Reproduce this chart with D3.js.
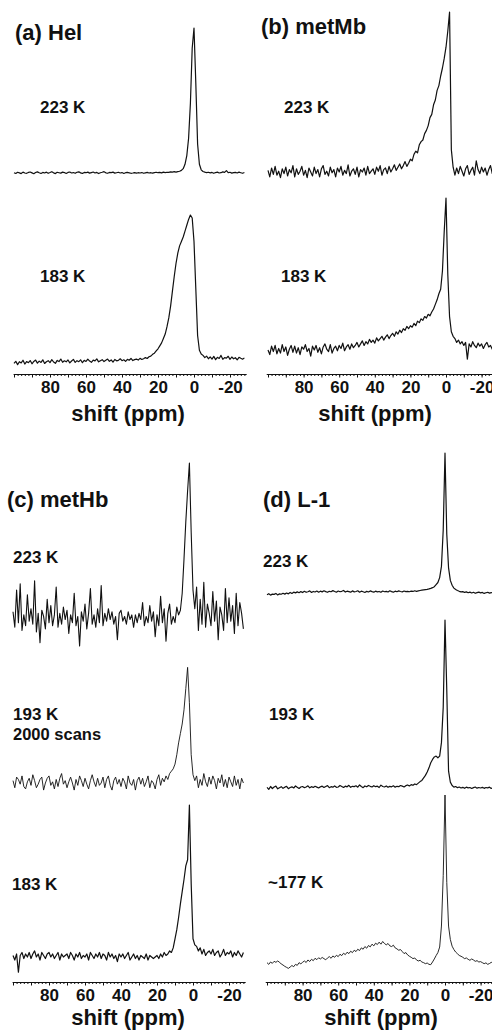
<!DOCTYPE html>
<html>
<head>
<meta charset="utf-8">
<script src="https://cdn.jsdelivr.net/npm/d3@7"></script>
<style>
  body { margin: 0; background: #fff; }
  svg { display: block; }
  text { font-family: "Liberation Sans", Arial, Helvetica, sans-serif; font-weight: bold; fill: #111; }
</style>
</head>
<body>
<svg id="fig" width="492" height="1032"></svg>
<script>
// chemical shift grid, 100 ppm down to -28 ppm, one point per ppm
var shiftPpm = d3.range(100, -29, -1);

var panelTitles = ['(a) Hel', '(b) metMb', '(c) metHb', '(d) L-1'];
var tickLabels = [80, 60, 40, 20, 0, -20];
var axisTitle = 'shift (ppm)';

var tempsHel = ['223 K', '183 K'];
var tempsMetMb = ['223 K', '183 K'];
var tempsMetHb = ['223 K', '193 K', '183 K'];
var tempsL1 = ['223 K', '193 K', '~177 K'];
var metHbNote = '2000 scans';

// intensities, relative to each trace's own maximum (= 100)
var hel223 = [
  0.2, -0.3, 0.5, 0.1, -0.4, 0.6, 0.0, -0.2, 0.4, 0.7,
  0.1, -0.5, 0.3, 0.8, 0.2, -0.3, 0.4, 0.0, 0.6, -0.2,
  0.3, 0.9, 0.1, -0.4, 0.5, 0.2, -0.1, 0.6, 0.3, -0.3,
  0.4, 0.7, 0.0, 0.3, -0.2, 0.5, 0.8, 0.1, -0.3, 0.4,
  0.2, 0.6, -0.1, 0.3, 0.7, 0.0, 0.4, -0.4, 0.2, 0.5,
  0.9, 0.1, -0.2, 0.4, 0.3, 0.6, -0.1, 0.2, 0.5, 0.0,
  0.3, -0.3, 0.2, 0.4, 0.1, -0.2, 0.0, 0.3, -0.1, 0.2,
  0.0, 0.3, -0.2, 0.1, 0.4, 0.0, 0.2, -0.1, 0.3, 0.5,
  0.2, 0.4, 0.1, 0.6, 0.3, 0.5, 0.4, 0.8, 0.6, 0.9,
  0.6, 0.9, 1.2, 1.8, 3.0, 6.0, 12, 24, 48, 86,
  100, 62, 20, 6.0, 2.2, 1.0, 0.6, 0.3, 0.5, 0.1,
  0.4, -0.2, 0.3, 0.6, 0.0, 0.2, 0.8, 0.4, 1.6, 0.2,
  0.5, -0.1, 0.3, 0.4, 0.0, 0.6, 0.2, -0.2, 0.3
];
var hel183 = [
  -1.0, 0.5, -1.8, 0.2, -0.6, 1.2, -1.4, 0.3, -0.5, 1.0,
  -1.2, 0.4, 1.3, -0.8, 0.6, -0.3, 1.5, -1.0, 0.2, 0.9,
  -0.4, 1.6, 0.0, -0.9, 1.1, 0.3, 2.0, -0.2, 0.8, 0.1,
  1.4, -0.6, 0.7, 1.8, -0.3, 0.9, 0.2, 1.5, -0.5, 1.1,
  0.4, 1.9, 0.6, -0.2, 1.3, 0.8, 2.1, 0.1, 0.9, 1.6,
  0.3, 1.2, 2.0, 0.5, 1.4, -0.1, 1.7, 0.8, 1.1, 2.2,
  0.9, 1.5, 0.4, 1.8, 1.2, 2.4, 1.0, 1.6, 2.0, 1.3,
  2.5, 1.7, 2.2, 3.0, 2.4, 3.6, 4.0, 5.2, 6.0, 7.5,
  9, 11, 13, 16, 19, 24, 30, 38, 48, 58,
  67, 74, 79, 82, 85, 89, 93, 97, 100, 98,
  82, 50, 18, 8, 5.5, 4.5, 3.0, 4.0, 2.2, 3.5,
  2.0, 3.8, 1.6, 3.2, 2.4, 4.5, 1.8, 3.0, 2.6, 3.9,
  1.8, 3.4, 2.2, 2.9, 1.5, 3.2, 2.5, 1.9, 2.8
];
var metMb223 = [
  1.0, -3.0, 2.5, -1.5, 3.5, -2.0, 0.5, -3.5, 2.0, -1.0,
  3.0, -2.5, 1.5, -0.5, 4.0, -3.0, 2.0, -1.5, 0.5, 3.5,
  -2.0, 1.0, -3.5, 2.5, 0.0, -2.5, 3.0, -1.0, 1.5, -3.0,
  2.0, 4.0, -1.5, 0.5, -2.5, 3.0, -0.5, 1.5, -3.0, 2.5,
  0.0, 3.5, -2.0, 1.0, -1.0, 4.5, -2.5, 0.5, 2.0, -1.5,
  3.0, -3.0, 1.5, 0.0, 2.5, -2.0, 3.5, -1.0, 0.5, 2.0,
  -1.5, 3.0, 0.5, 4.0, -2.0, 1.5, 2.5, -1.0, 3.5, 0.0,
  2.0, 4.5, 1.0, 3.0, 5.0, 2.0, 4.0, 6.5, 3.5, 5.5,
  8, 7, 11, 13, 12, 17, 19, 20, 24, 26,
  29, 34, 36, 42, 45, 51, 54, 60, 65, 71,
  78, 88, 100, 14, 3.0, -2.0, 2.5, -1.0, 3.5, 0.5,
  -2.5, 2.0, 4.0, -1.5, 1.0, 3.0, -2.0, 7.0, 1.5, -1.0,
  3.0, 0.0, 2.5, -2.0, 1.5, 4.0, -1.0, 2.0, 0.5
];
var metMb183 = [
  0.0, -3.0, 2.5, -1.0, 3.0, -2.5, 1.0, -2.0, 3.5, -1.0,
  2.0, -3.5, 0.5, 3.0, -1.5, 2.5, -2.0, 1.5, -3.0, 2.0,
  0.5, 3.5, -1.0, 1.0, -4.0, 2.5, 0.0, 3.0, -1.5, 1.5,
  -2.5, 2.0, 4.0, 0.5, -1.0, 3.5, -2.0, 1.0, 2.5, -0.5,
  3.0, 1.0, 4.5, -0.5, 2.0, 3.5, 0.5, 4.0, 1.5, 3.0,
  5.0, 2.0, 4.0, 6.0, 3.0, 5.5, 4.0, 7.0, 5.0, 6.5,
  4.5, 8.0, 6.0, 7.5, 9.0, 6.5, 8.5, 10.0, 7.5, 9.5,
  11, 9, 12, 10.5, 13, 11.5, 14, 13, 15.5, 14,
  16, 15, 17.5, 16, 19, 18, 20.5, 19.5, 22, 21,
  23.5, 22.5, 25, 27, 30, 33, 37, 40, 52, 78,
  100, 50, 22, 12, 9, 7.5, 5, 6.5, 4, 5.5,
  3.0, 5.0, -6.0, 4.0, 2.0, 5.5, 3.0, 1.5, 4.5, 2.5,
  4.0, 1.0, 3.5, 5.0, 2.0, 3.0, 0.5, 4.0, 2.5
];
var metHb223 = [
  4, -6, 18, -3, 22, -8, 2, -5, 15, -2,
  6, -4, 24, -9, 3, -16, 5, 1, -7, 12,
  -3, 8, -5, 2, 20, -6, 3, -4, 7, -1,
  5, -10, 2, -3, 16, -5, 1, -18, 4, -2,
  9, -7, 3, 19, -4, 2, -6, 6, -3, 21,
  -5, 3, -2, 6, -1, 4, -4, 1, -14, 3,
  5, -2, 1, -4, 4, -1, 2, -6, 2, -3,
  3, -1, 10, -5, 1, -3, 8, -2, 4, -12,
  2, -5, 14, -3, 6, -15, 3, 9, -4, 1,
  -3, 7, 2, 5, 16, 38, 62, 82, 100, 55,
  18, 6, 20, -8, 12, -4, 23, -6, 9, 3,
  -5, 17, -2, 11, -14, 7, 2, -8, 19, -3,
  13, -2, 8, -10, 16, -5, 10, 3, -7
];
var metHb193 = [
  2, -4, 5, 3, -1, 6, -3, -5, 1, 4,
  -2, 7, 2, -4, -1, 3, 5, -6, 0, 4,
  6, -2, 1, -5, 3, -3, 4, 8, -1, 2,
  -4, 1, 5, 0, -6, 3, -2, 6, 2, -3,
  4, -1, -5, 2, 7, 1, -3, 4, -2, 0,
  5, -4, 3, 6, -2, -6, 2, 5, -1, 3,
  -3, 4, 1, -5, 6, 0, -2, 3, -6, 2,
  5, -1, 4, -3, 1, 6, -4, 2, 0, -5,
  3, 7, -2, 4, 1, 6, 3, 8, 10, 12,
  16, 24, 34, 42, 50, 62, 80, 98, 68, 24,
  7, 2, 6, -4, 3, -2, 8, 1, -3, 5,
  -1, 6, 2, -5, 4, 0, 7, -3, 3, -4,
  5, 1, -3, 6, -2, 3, -5, 4, 0
];
var metHb183 = [
  1, -2, 2, -10, 1, 3, -1, 2, 0, 3,
  -1, 2, 4, 0, 2, -2, 3, 1, -1, 2,
  3, 0, 2, -1, 1, 3, -2, 2, 0, 1,
  2, -1, 3, 1, -2, 2, 0, 3, -1, 1,
  0, 2, -2, 3, 1, -1, 2, 0, 3, -1,
  2, 1, -2, 3, 0, 2, -1, 1, -3, 2,
  0, 2, -1, 1, 3, -2, 0, 2, -1, 1,
  -2, 1, 0, -1, 2, -2, 1, 0, -1, 0,
  1, -1, 2, 0, 3, 1, 2, 4, 3, 6,
  12, 18, 26, 35, 43, 51, 60, 64, 100, 48,
  12, 8, 7, 4, 6, 2, 5, 1, 3, 4,
  2, 5, 1, 3, 4, 0, 2, 5, 1, 3,
  2, 4, 0, 3, 1, 4, 2, 0, 3
];
var l1_223 = [
  -1.2, -0.5, -1.5, -0.8, -1.0, -0.3, -1.4, -0.6, -0.9, -0.2,
  -0.8, 0.0, -0.6, 0.4, -0.3, 0.6, 0.1, 0.8, 0.2, 1.0,
  0.3, 1.2, 0.5, 0.9, 1.5, 0.4, 1.1, 0.7, 1.4, 0.6,
  1.3, 0.8, 1.6, 1.0, 0.5, 1.2, 0.9, 1.7, 1.1, 0.6,
  1.4, 0.9, 1.2, 1.8, 0.7, 1.3, 1.0, 0.6, 1.5, 0.8,
  1.1, 1.6, 0.6, 1.3, 0.9, 0.4, 1.2, 0.7, 1.5, 1.0,
  0.6, 1.3, 0.8, 1.1, 0.5, 1.4, 0.9, 1.2, 0.7, 1.6,
  1.0, 0.6, 1.3, 0.9, 1.5, 1.1, 0.8, 1.4, 1.0, 1.2,
  0.9, 1.3, 1.1, 1.6, 1.2, 1.5, 1.8, 2.0, 2.2, 2.4,
  2.6, 2.9, 3.3, 3.8, 4.5, 6.0, 7.5, 11, 19, 45,
  100, 42, 18, 9, 5.5, 3.5, 2.5, 1.8, 1.2, 0.8,
  1.0, 0.4, 0.8, 0.2, 0.6, 0.0, 0.5, -0.2, 0.3, 0.6,
  0.1, 0.4, -0.3, 0.2, 0.5, -0.1, 0.3, 0.0, 0.2
];
var l1_193 = [
  0.4, -0.8, 0.9, -0.3, 0.6, 1.1, -0.5, 0.2, 0.8, -0.2,
  0.5, 1.0, -0.4, 0.3, 0.7, 0.0, 1.2, 0.4, -0.3, 0.6,
  0.9, 0.2, 0.6, 1.3, 0.1, 0.8, 0.3, 1.0, 0.5, 0.0,
  0.7, 1.1, 0.3, 0.9, 1.4, 0.2, 0.8, 0.5, 1.2, 0.4,
  0.6, 1.5, 0.9, 0.3, 1.1, 0.7, 1.6, 0.4, 1.0, 0.8,
  1.3, 0.5, 1.8, 0.9, 0.2, 1.2, 0.7, 1.5, 1.0, 0.6,
  1.4, 0.8, 1.1, 0.3, 1.7, 0.9, 0.6, 1.2, 0.4, 1.0,
  0.7, 1.3, 0.5, 1.0, 0.8, 1.5, 1.1, 0.6, 1.4, 1.8,
  1.2, 2.0, 1.6, 2.4, 2.0, 2.9, 3.8, 4.5, 6.0, 7.5,
  9.5, 12, 15, 17, 18.5, 19, 18, 19, 27, 48,
  100, 58, 10, 3.5, 1.5, 0.5, 0.9, 0.2, 0.6, 0.0,
  0.4, -0.2, 0.5, 0.1, 0.3, -0.3, 0.2, 0.6, -0.1, 0.3,
  0.0, 0.4, -0.2, 0.3, 0.1, 0.5, -0.3, 0.2, 0.0
];
var l1_177 = [
  0.2, -0.8, 0.6, -0.2, 1.0, 0.4, 1.2, 0.5, -0.6, -1.2,
  -2.0, -2.6, -3.2, -2.4, -1.5, -2.2, -0.8, -1.4, 0.2, -0.5,
  0.4, 1.2, 0.3, 1.8, 0.9, 2.2, 1.4, 2.8, 2.0, 3.1,
  2.4, 3.3, 2.6, 1.9, 3.0, 3.8, 2.8, 4.2, 3.4, 4.6,
  3.8, 5.2, 4.4, 5.8, 5.0, 6.4, 5.6, 7.0, 6.2, 7.6,
  6.8, 8.2, 7.4, 9.0, 8.2, 9.8, 8.8, 10.4, 9.6, 11.2,
  10.2, 11.8, 11.0, 12.4, 11.2, 12.8, 11.6, 10.8, 11.6, 10.2,
  9.8, 10.6, 9.0, 8.4, 7.6, 8.0, 6.8, 5.6, 6.2, 4.8,
  4.0, 3.4, 2.6, 3.0, 1.8, 1.2, 1.6, 0.6, 0.2, -0.4,
  0.0, -0.8, -1.0, 0.6, 2.4, 4.4, 6.2, 9.5, 22, 52,
  100, 48, 22, 14, 10, 8, 6.5, 5.5, 4.5, 4.0,
  3.4, 2.6, 3.0, 2.2, 1.6, 2.4, 1.8, 1.0, 1.4, 0.6,
  0.8, 0.2, -0.4, 0.1, -0.8, -0.3, 0.4, -0.2, 0.5
];

// layout of the four panels (pixel positions taken from the figure)
var panels = [
  { title: panelTitles[0], tx: 15, ty: 40, x0: 194, ppx: 1.8, axisY: 374, axisLeft: 100.5, axisRight: -29, labelX: 128, labelY: 421,
    traces: [
      { values: hel223, label: tempsHel[0], base: 173, top: 28, lx: 40, ly: 113 },
      { values: hel183, label: tempsHel[1], base: 362, top: 215, lx: 40, ly: 282 }
    ] },
  { title: panelTitles[1], tx: 261, ty: 34, x0: 446, ppx: 1.78, axisY: 374, axisLeft: 101, axisRight: -28, labelX: 375, labelY: 421,
    traces: [
      { values: metMb223, label: tempsMetMb[0], base: 172, top: 12, lx: 284, ly: 113 },
      { values: metMb183, label: tempsMetMb[1], base: 350, top: 198, lx: 281, ly: 282 }
    ] },
  { title: panelTitles[2], tx: 7, ty: 507, x0: 193, ppx: 1.8, axisY: 982, axisLeft: 100.5, axisRight: -29, labelX: 128, labelY: 1025,
    traces: [
      { values: metHb223, label: tempsMetHb[0], base: 618, top: 463, lx: 13, ly: 563, w: 1.1 },
      { values: metHb193, label: tempsMetHb[1], base: 783, top: 665, lx: 13, ly: 720, w: 0.9 },
      { values: metHb183, label: tempsMetHb[2], base: 957, top: 805, lx: 12, ly: 890 }
    ] },
  { title: panelTitles[3], tx: 263, ty: 507, x0: 445, ppx: 1.78, axisY: 982, axisLeft: 101, axisRight: -28, labelX: 381, labelY: 1025,
    traces: [
      { values: l1_223, label: tempsL1[0], base: 593, top: 453, lx: 263, ly: 567 },
      { values: l1_193, label: tempsL1[1], base: 788, top: 620, lx: 269, ly: 720 },
      { values: l1_177, label: tempsL1[2], base: 963, top: 795, lx: 268, ly: 888, w: 0.9 }
    ] }
];

var svg = d3.select('#fig');

panels.forEach(function(p, pi) {
  var g = svg.append('g').attr('class', 'panel');

  var x = d3.scaleLinear().domain([0, 100]).range([p.x0, p.x0 - 100 * p.ppx]);
  var ax = d3.scaleLinear().domain([p.axisLeft, p.axisRight]).range([x(p.axisLeft), x(p.axisRight)]);

  // minor ticks every 2 ppm
  g.append('g')
    .attr('transform', 'translate(0,' + p.axisY + ')')
    .call(d3.axisBottom(ax).tickValues(d3.range(100, p.axisRight, -2)).tickSize(2).tickSizeOuter(0).tickFormat(''))
    .call(function(s) { s.selectAll('line, path').attr('stroke', '#111'); });

  // longer ticks every 10 ppm
  g.append('g')
    .attr('transform', 'translate(0,' + p.axisY + ')')
    .call(d3.axisBottom(ax).tickValues(d3.range(100, p.axisRight, -10)).tickSize(3.5).tickSizeOuter(0).tickFormat(''))
    .call(function(s) { s.select('.domain').remove(); s.selectAll('line').attr('stroke', '#111'); });

  // tick labels (the -20 runs off the page on the right-hand panels, as in the original)
  g.append('g')
    .attr('transform', 'translate(0,' + p.axisY + ')')
    .call(d3.axisBottom(ax).tickValues(tickLabels).tickSize(0).tickPadding(7).tickFormat(function(d) { return String(d); }))
    .attr('font-size', 17)
    .call(function(s) { s.select('.domain').remove(); });

  g.append('text')
    .attr('x', p.labelX).attr('y', p.labelY)
    .attr('text-anchor', 'middle')
    .attr('font-size', 22)
    .text(axisTitle);

  g.append('text')
    .attr('x', p.tx).attr('y', p.ty)
    .attr('font-size', 22)
    .text(p.title);

  p.traces.forEach(function(t) {
    var y = d3.scaleLinear().domain([0, 100]).range([t.base, t.top]);
    var line = d3.line()
      .x(function(d, i) { return x(shiftPpm[i]); })
      .y(function(d) { return y(d); });

    g.append('path')
      .datum(t.values)
      .attr('d', line)
      .attr('fill', 'none')
      .attr('stroke', '#111')
      .attr('stroke-width', t.w || 1.2)
      .attr('stroke-linejoin', 'round');

    g.append('text')
      .attr('x', t.lx).attr('y', t.ly)
      .attr('font-size', 17)
      .text(t.label);
  });

  if (pi === 2) {
    g.append('text')
      .attr('x', 13).attr('y', 740)
      .attr('font-size', 16.5)
      .text(metHbNote);
  }
});
</script>
</body>
</html>
